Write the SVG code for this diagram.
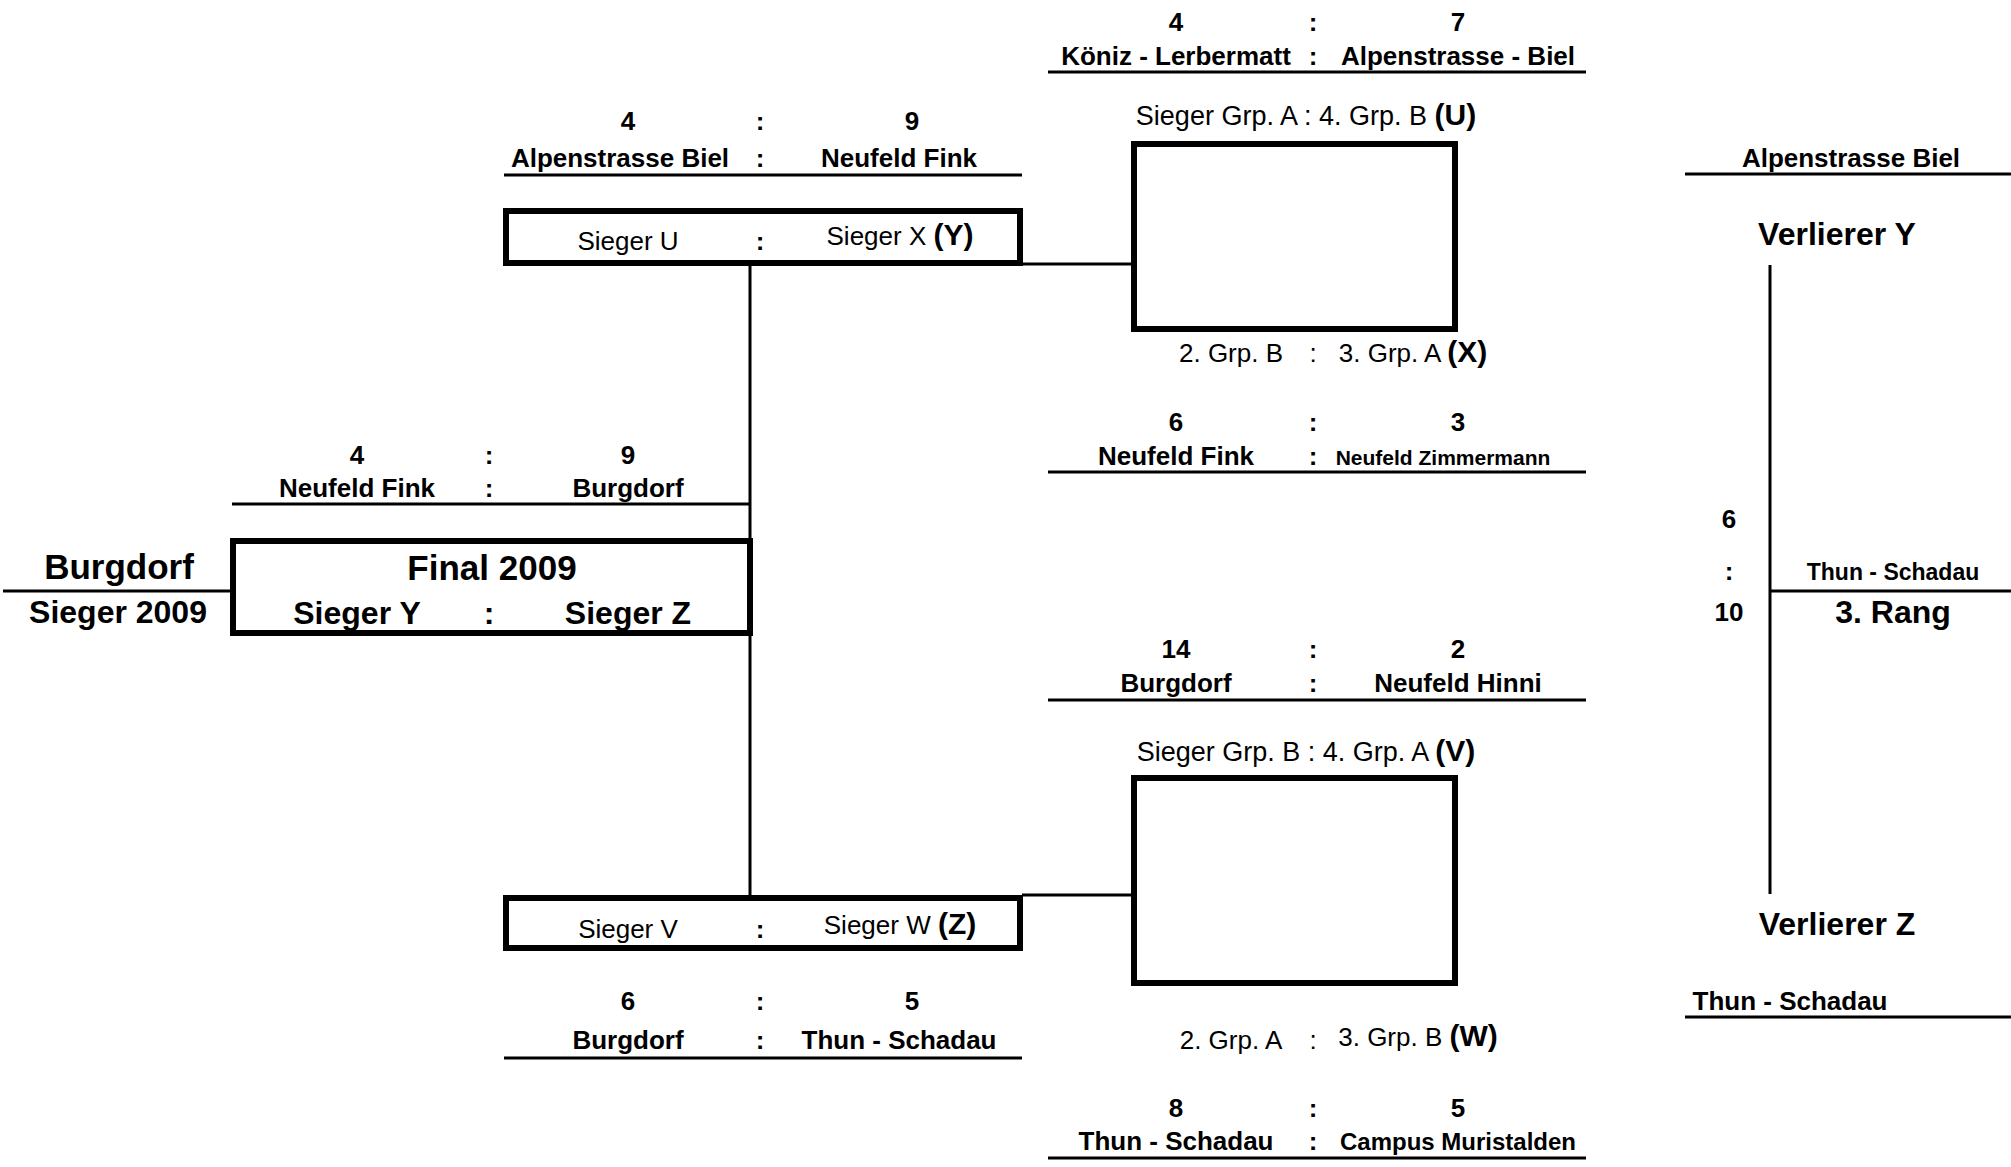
<svg xmlns="http://www.w3.org/2000/svg" width="2011" height="1167" viewBox="0 0 2011 1167">
<style>
text { font-family: "Liberation Sans", Arial, Helvetica, sans-serif; fill: #000; text-anchor: middle; }
.b { font-weight: bold; font-size: 26px; }
.n { font-weight: normal; font-size: 26px; }
.q { font-weight: normal; font-size: 27px; }
.xl { font-weight: bold; font-size: 35px; }
.l { font-weight: bold; font-size: 32px; }
.k { font-weight: bold; font-size: 30px; }
.sm { font-weight: bold; font-size: 21px; }
.ln { stroke: #000; stroke-width: 3; fill: none; }
.box { stroke: #000; stroke-width: 6; fill: none; }
</style>
<rect width="2011" height="1167" fill="#fff"/>

<g id="connectors">
  <line class="ln" x1="3" y1="591" x2="232" y2="591"/>
  <line class="ln" x1="750" y1="264" x2="750" y2="895"/>
  <line class="ln" x1="1022" y1="264" x2="1133" y2="264"/>
  <line class="ln" x1="1022" y1="895" x2="1133" y2="895"/>
  <line class="ln" x1="1770" y1="265" x2="1770" y2="894"/>
  <line class="ln" x1="1770" y1="591" x2="2011" y2="591"/>
</g>

<g id="sieger">
  <text class="xl" x="119" y="579">Burgdorf</text>
  <text class="l" x="118" y="623">Sieger 2009</text>
</g>

<g id="final">
  <rect class="box" x="233" y="541" width="517" height="92"/>
  <text class="xl" x="492" y="580">Final 2009</text>
  <text class="l" x="357" y="624">Sieger Y</text>
  <text class="l" x="489" y="624">:</text>
  <text class="l" x="628" y="624">Sieger Z</text>
</g>

<g id="final-result">
  <line class="ln" x1="232" y1="504" x2="750" y2="504"/>
  <text class="b" x="357" y="464">4</text>
  <text class="b" x="489" y="464">:</text>
  <text class="b" x="628" y="464">9</text>
  <text class="b" x="357" y="497">Neufeld Fink</text>
  <text class="b" x="489" y="497">:</text>
  <text class="b" x="628" y="497">Burgdorf</text>
</g>

<g id="semi-y">
  <rect class="box" x="506" y="211" width="514" height="52"/>
  <text class="n" x="628" y="250">Sieger U</text>
  <text class="b" x="760" y="250">:</text>
  <text class="n" x="900" y="245">Sieger X <tspan class="k">(Y)</tspan></text>
</g>

<g id="semi-y-result">
  <line class="ln" x1="504" y1="175" x2="1022" y2="175"/>
  <text class="b" x="628" y="130">4</text>
  <text class="b" x="760" y="130">:</text>
  <text class="b" x="912" y="130">9</text>
  <text class="b" x="620" y="167">Alpenstrasse Biel</text>
  <text class="b" x="760" y="167">:</text>
  <text class="b" x="899" y="167">Neufeld Fink</text>
</g>

<g id="semi-z">
  <rect class="box" x="506" y="898" width="514" height="50"/>
  <text class="n" x="628" y="938">Sieger V</text>
  <text class="b" x="760" y="938">:</text>
  <text class="n" x="900" y="934">Sieger W <tspan class="k">(Z)</tspan></text>
</g>

<g id="semi-z-result">
  <line class="ln" x1="504" y1="1058" x2="1022" y2="1058"/>
  <text class="b" x="628" y="1010">6</text>
  <text class="b" x="760" y="1010">:</text>
  <text class="b" x="912" y="1010">5</text>
  <text class="b" x="628" y="1049">Burgdorf</text>
  <text class="b" x="760" y="1049">:</text>
  <text class="b" x="899" y="1049">Thun - Schadau</text>
</g>

<g id="qf-top">
  <text class="q" x="1306" y="125">Sieger Grp. A : 4. Grp. B <tspan class="k">(U)</tspan></text>
  <rect class="box" x="1134" y="144" width="321" height="185"/>
  <text class="n" x="1231" y="362">2. Grp. B</text>
  <text class="n" x="1313" y="362">:</text>
  <text class="n" x="1413" y="362">3. Grp. A <tspan class="k">(X)</tspan></text>
</g>

<g id="qf-u-result">
  <line class="ln" x1="1048" y1="72" x2="1586" y2="72"/>
  <text class="b" x="1176" y="31">4</text>
  <text class="b" x="1313" y="31">:</text>
  <text class="b" x="1458" y="31">7</text>
  <text class="b" x="1176" y="65">Köniz - Lerbermatt</text>
  <text class="b" x="1313" y="65">:</text>
  <text class="b" x="1458" y="65">Alpenstrasse - Biel</text>
</g>

<g id="qf-x-result">
  <line class="ln" x1="1048" y1="472" x2="1586" y2="472"/>
  <text class="b" x="1176" y="431">6</text>
  <text class="b" x="1313" y="431">:</text>
  <text class="b" x="1458" y="431">3</text>
  <text class="b" x="1176" y="465">Neufeld Fink</text>
  <text class="b" x="1313" y="465">:</text>
  <text class="sm" x="1443" y="465">Neufeld Zimmermann</text>
</g>

<g id="qf-v-result">
  <line class="ln" x1="1048" y1="700" x2="1586" y2="700"/>
  <text class="b" x="1176" y="658">14</text>
  <text class="b" x="1313" y="658">:</text>
  <text class="b" x="1458" y="658">2</text>
  <text class="b" x="1176" y="692">Burgdorf</text>
  <text class="b" x="1313" y="692">:</text>
  <text class="b" x="1458" y="692">Neufeld Hinni</text>
</g>

<g id="qf-bottom">
  <text class="q" x="1306" y="761">Sieger Grp. B : 4. Grp. A <tspan class="k">(V)</tspan></text>
  <rect class="box" x="1134" y="778" width="321" height="205"/>
  <text class="n" x="1231" y="1049">2. Grp. A</text>
  <text class="n" x="1313" y="1049">:</text>
  <text class="n" x="1418" y="1046">3. Grp. B <tspan class="k">(W)</tspan></text>
</g>

<g id="qf-w-result">
  <line class="ln" x1="1048" y1="1158" x2="1586" y2="1158"/>
  <text class="b" x="1176" y="1117">8</text>
  <text class="b" x="1313" y="1117">:</text>
  <text class="b" x="1458" y="1117">5</text>
  <text class="b" x="1176" y="1150">Thun - Schadau</text>
  <text class="b" x="1313" y="1150">:</text>
  <text class="b" x="1458" y="1150" style="font-size:24px">Campus Muristalden</text>
</g>

<g id="third-place">
  <line class="ln" x1="1685" y1="174" x2="2011" y2="174"/>
  <text class="b" x="1851" y="167">Alpenstrasse Biel</text>
  <text class="l" x="1837" y="245">Verlierer Y</text>
  <text class="b" x="1729" y="528">6</text>
  <text class="b" x="1729" y="580">:</text>
  <text class="b" x="1729" y="621">10</text>
  <text class="b" x="1893" y="580" style="font-size:23px">Thun - Schadau</text>
  <text class="l" x="1893" y="623">3. Rang</text>
  <text class="l" x="1837" y="935">Verlierer Z</text>
  <line class="ln" x1="1685" y1="1017" x2="2011" y2="1017"/>
  <text class="b" x="1790" y="1010">Thun - Schadau</text>
</g>
</svg>
